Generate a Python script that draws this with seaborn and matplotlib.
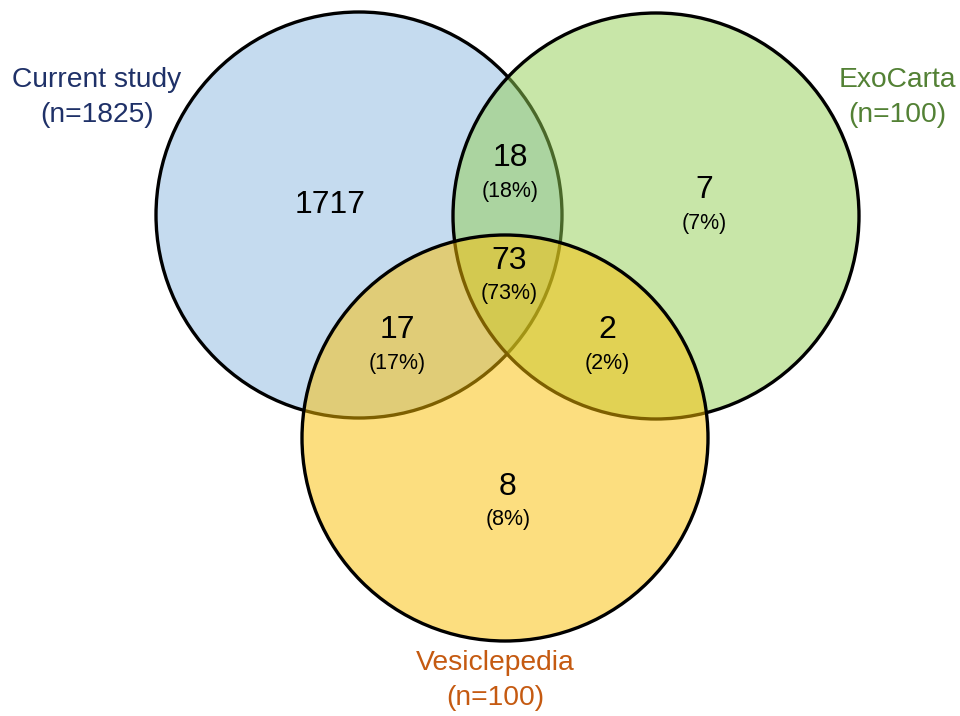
import matplotlib
matplotlib.use("Agg")
import matplotlib.pyplot as plt
from matplotlib.patches import Circle
import seaborn as sns

# ---- data ----
set_names = ["Current study", "ExoCarta", "Vesiclepedia"]
set_sizes = [1825, 100, 100]
region_keys = ["100", "010", "001", "110", "101", "011", "111"]
region_counts = [1717, 7, 8, 18, 17, 2, 73]
region_pcts = [None, 7, 8, 18, 17, 2, 73]

# ---- styling / layout ----
sns.set_theme(style="white")
plt.rcParams["font.family"] = ["Liberation Sans", "DejaVu Sans"]

fill_colors = [(197/255, 219/255, 239/255, 1.0),
               (147/255, 207/255, 83/255, 0.5),
               (251/255, 191/255, 1/255, 0.5)]
label_colors = ["#1F3168", "#538135", "#C55A11"]
centers = [(359, 215), (656, 216), (505, 438)]
radius = 203
label_pos = [(97, 80), (897, 80), (495, 663)]
region_pos = {"100": (330, 205), "010": (704, 190), "001": (508, 487),
              "110": (510, 158), "101": (397, 330), "011": (607, 330),
              "111": (509, 261)}

fig = plt.figure(figsize=(9.6, 7.16), dpi=100)
ax = fig.add_axes([0, 0, 1, 1])
ax.set_xlim(0, 960)
ax.set_ylim(716, 0)
ax.set_aspect("equal")
ax.axis("off")

for i, (c, fc) in enumerate(zip(centers, fill_colors)):
    ax.add_patch(Circle(c, radius, facecolor=fc, edgecolor="black",
                        linewidth=2.4, zorder=1 + i))

for name, n, pos, col in zip(set_names, set_sizes, label_pos, label_colors):
    ax.text(pos[0], pos[1], name, color=col, fontsize=20.3,
            ha="center", va="center", zorder=10)
    ax.text(pos[0], pos[1] + 35, f"(n={n})", color=col, fontsize=20.3,
            ha="center", va="center", zorder=10)

for key, cnt, pct in zip(region_keys, region_counts, region_pcts):
    x, y = region_pos[key]
    ax.text(x, y, f"{cnt}", fontsize=23, ha="center", va="center",
            color="black", zorder=10)
    if pct is not None:
        ax.text(x, y + 33, f"({pct}%)", fontsize=15.5, ha="center",
                va="center", color="black", zorder=10)

fig.savefig("out.png", dpi=100)
